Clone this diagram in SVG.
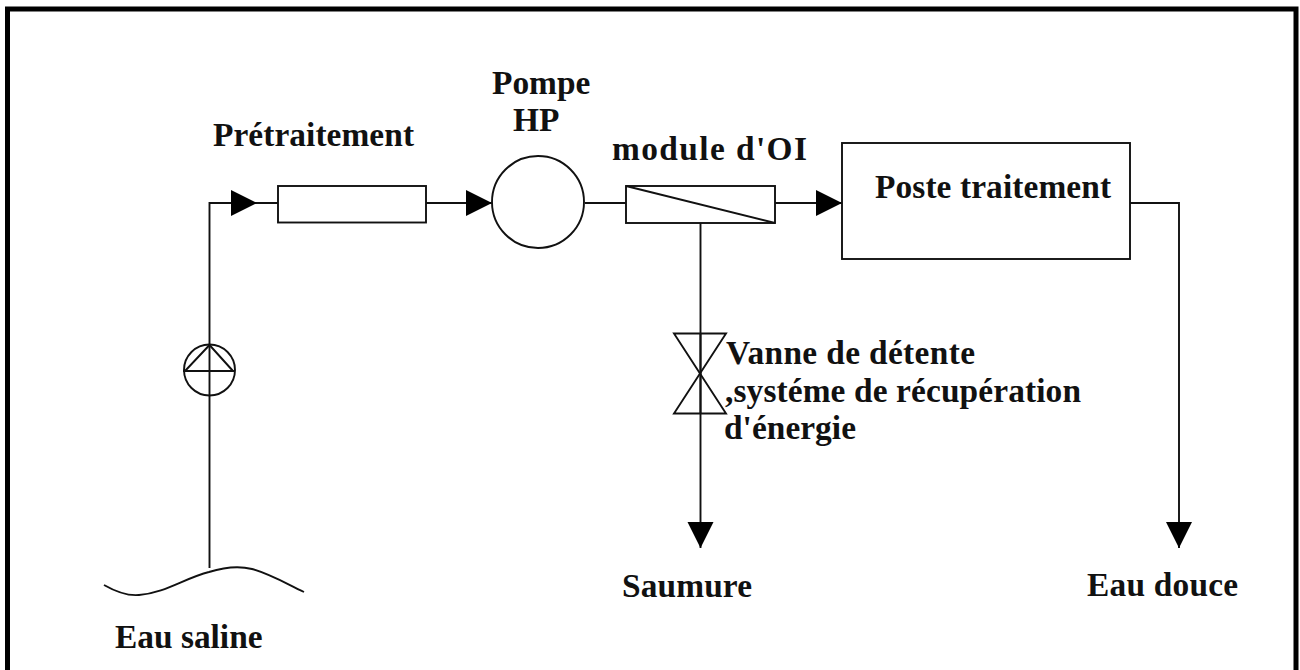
<svg xmlns="http://www.w3.org/2000/svg" width="1300" height="670" viewBox="0 0 1300 670">
<defs>
<style>
.l{fill:none;stroke:#111;stroke-width:1.9}
.s{fill:#fff;stroke:#111;stroke-width:1.9}
.t{font-family:"Liberation Serif",serif;font-weight:bold;font-size:33.4px;fill:#111}
</style>
<marker id="a" markerUnits="userSpaceOnUse" markerWidth="28" markerHeight="28" refX="26" refY="13" orient="auto"><path d="M0 0L26 13L0 26Z" fill="#000"/></marker>
</defs>
<rect width="1300" height="670" fill="#fff"/>
<path d="M7.500 670V9H1296V670" fill="none" stroke="#000" stroke-width="5"/>
<g id="connectors">
<path class="l" d="M209.500 568V203H278"/>
<path class="l" d="M209.500 203H257" marker-end="url(#a)"/>
<path class="l" d="M426 203H492" marker-end="url(#a)"/>
<path class="l" d="M585 203H626"/>
<path class="l" d="M775 203H842" marker-end="url(#a)"/>
<path class="l" d="M700.500 223V548" marker-end="url(#a)"/>
<path class="l" d="M1130 203H1179V548" marker-end="url(#a)"/>
<path class="l" d="M104 585C118 593 128 596 139 595C165 593 185 578 209 572C225 567 240 566 252 569C270 574 285 583 304 592"/>
</g>
<g id="flowmeter"><circle class="l" cx="209.500" cy="370" r="25.500"/><path class="l" d="M183 371H235M209.500 345L185 371M209.500 345L233 371"/></g>
<g id="pretraitement"><rect class="s" x="278" y="186" width="148" height="36.500"/><text class="t" x="213" y="146" textLength="201">Prétraitement</text></g>
<g id="pompe"><circle class="s" cx="538" cy="202" r="46"/><text class="t" x="492" y="94">Pompe</text><text class="t" x="513" y="131">HP</text></g>
<g id="module"><rect class="s" x="626" y="186" width="149" height="37"/><path class="l" d="M626 186L775 223"/><text class="t" x="612" y="160" textLength="195">module d'OI</text></g>
<g id="poste"><rect class="s" x="842" y="143" width="288" height="116"/><text class="t" x="875" y="198" textLength="236">Poste traitement</text></g>
<g id="vanne"><path class="l" d="M674 333.500H726L674 413.500H726Z"/><path class="l" d="M700.500 333V413"/>
<text class="t" x="726" y="364" textLength="249">Vanne de détente</text><text class="t" x="725" y="402" textLength="356">,systéme de récupération</text><text class="t" x="724" y="439" textLength="132">d'énergie</text></g>
<g id="labels"><text class="t" x="622" y="597" textLength="130">Saumure</text><text class="t" x="1087" y="596" textLength="151">Eau douce</text><text class="t" x="115" y="648">Eau saline</text></g>
</svg>
